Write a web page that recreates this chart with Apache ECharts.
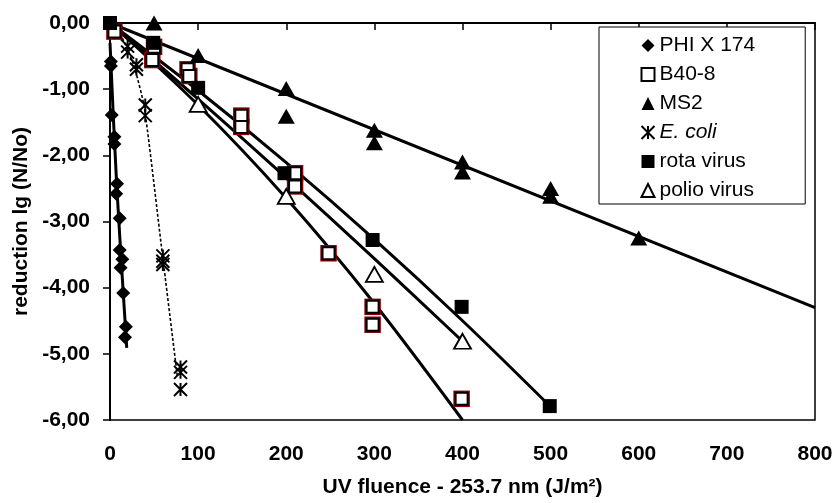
<!DOCTYPE html>
<html><head><meta charset="utf-8">
<script src="https://cdn.jsdelivr.net/npm/echarts@6/dist/echarts.min.js"></script>
<style>html,body{margin:0;padding:0;background:#fff}#c{width:836px;height:503px}</style>
</head><body><div id="c"></div>
<script>
// ---- data ----
const xTicks = [0,100,200,300,400,500,600,700,800];
const yTicks = [0,-1,-2,-3,-4,-5,-6];
const seriesNames = ['PHI X 174','B40-8','MS2','E. coli','rota virus','polio virus'];

const phiX = [[1,-0.58],[1,-0.65],[2,-1.39],[5,-1.72],[5,-1.83],[8,-2.43],[7,-2.58],[11,-2.95],[11,-3.43],[14,-3.57],[12,-3.7],[15,-4.08],[18,-4.59],[17,-4.75]];
const b408 = [[9,0.02],[5,-0.13],[50,-0.36],[48,-0.56],[88,-0.7],[90,-0.8],[149,-1.4],[149,-1.57],[210,-2.27],[210,-2.47],[248,-3.48],[298,-4.29],[298,-4.56],[399,-5.68]];
const ms2 = [[50,0],[100,-0.49],[200,-0.99],[200,-1.41],[300,-1.62],[300,-1.81],[400,-2.1],[400,-2.25],[500,-2.5],[500,-2.62],[600,-3.25]];
const ecoli = [[20,-0.35],[20,-0.44],[30,-0.63],[30,-0.7],[40,-1.24],[40,-1.4],[60,-3.52],[60,-3.6],[60,-3.65],[80,-5.2],[80,-5.28],[80,-5.54]];
const rota = [[0,0],[49,-0.3],[100,-0.98],[198,-2.27],[298,-3.28],[399,-4.29],[499,-5.79]];
const polio = [[100,-1.23],[200,-2.62],[300,-3.8],[400,-4.81]];

// trend lines (vertices)
const phiTrend = [[0,-0.3],[7.6,-2.45],[19,-4.91]];
const ecoliTrend = [[14,-0.23],[20,-0.4],[28,-0.68],[39,-1.28],[58,-3.34],[76.5,-5.35]];
const ms2Trend = [[0,0],[800,-4.3]];
const rotaTrend = [[0,0],[100,-1.02],[200,-2.11],[300,-3.27],[400,-4.5],[500,-5.8]];
const b40Trend = [[0,0],[100,-1.24],[200,-2.65],[300,-4.24],[400,-6.0]];
const polioTrend = [[0,0],[100,-1.15],[200,-2.34],[300,-3.56],[400,-4.81]];

const FONT = '"Liberation Sans", Arial, sans-serif';
const chart = echarts.init(document.getElementById('c'));

function trend(data, opts) {
  return Object.assign({
    type: 'line', data: data, showSymbol: false, symbol: 'none', silent: true,
    lineStyle: { color: '#000', width: 3 }, z: 2, clip: true, legendHoverLink: false
  }, opts || {});
}
const asterisk = 'path://M0,0L10,10M10,0L0,10M5,0L5,10';

chart.setOption({
  animation: false,
  backgroundColor: '#fff',
  grid: { left: 110, right: 21, top: 23, bottom: 83, show: true, borderColor: '#000', borderWidth: 1.5 },
  xAxis: {
    type: 'value', min: xTicks[0], max: xTicks[xTicks.length-1], interval: 100,
    name: 'UV fluence - 253.7 nm (J/m²)', nameLocation: 'middle', nameGap: 57,
    nameTextStyle: { fontFamily: FONT, fontWeight: 'bold', fontSize: 21, color: '#000' },
    axisLine: { lineStyle: { color: '#000', width: 2 } },
    axisTick: { show: true, inside: false, length: 7, lineStyle: { color: '#000', width: 1.5 } },
    axisLabel: { fontFamily: FONT, fontWeight: 'bold', fontSize: 21, color: '#000', margin: 24 },
    splitLine: { show: false }
  },
  yAxis: {
    type: 'value', min: yTicks[yTicks.length-1], max: yTicks[0], interval: 1,
    name: 'reduction lg (N/No)', nameLocation: 'middle', nameGap: 73,
    nameTextStyle: { fontFamily: FONT, fontWeight: 'bold', fontSize: 21, color: '#000' },
    axisLine: { show: true, lineStyle: { color: '#000', width: 2 } },
    axisTick: { show: true, inside: false, length: 7, lineStyle: { color: '#000', width: 1.5 } },
    axisLabel: { fontFamily: FONT, fontWeight: 'bold', fontSize: 21, color: '#000', margin: 20,
      formatter: v => v.toFixed(2).replace('.', ',') },
    splitLine: { show: false }
  },
  legend: {
    data: seriesNames, orient: 'vertical', left: 599, top: 27,
    backgroundColor: '#fff', borderColor: '#000', borderWidth: 1,
    padding: [8, 50, 3, 40], itemGap: 8, itemWidth: 13, itemHeight: 13,
    textStyle: { fontFamily: FONT, fontSize: 21, color: '#000',
      rich: { i: { fontFamily: FONT, fontSize: 21, fontStyle: 'italic', color: '#000' } } },
    formatter: n => n === 'E. coli' ? '{i|E. coli}' : n,
    selectedMode: false
  },
  series: [
    trend(phiTrend, { smooth: 0.3 }),
    trend(ecoliTrend, { smooth: 0.2, lineStyle: { color: '#000', width: 1.6, type: [3, 2] } }),
    trend(ms2Trend),
    trend(rotaTrend, { smooth: 0.3 }),
    trend(b40Trend, { smooth: 0.3 }),
    trend(polioTrend, { smooth: 0.3 }),
    { name: 'PHI X 174', type: 'scatter', data: phiX, symbol: 'diamond', symbolSize: 14, z: 5,
      itemStyle: { color: '#000', opacity: 1 } },
    // dark red fringe under the B40-8 squares
    { type: 'scatter', data: b408, symbol: 'rect', symbolSize: 16.5, z: 4, silent: true, legendHoverLink: false,
      itemStyle: { color: '#8a0000', opacity: 1 } },
    { name: 'B40-8', type: 'scatter', data: b408, symbol: 'rect', symbolSize: 12, z: 5,
      itemStyle: { color: '#fff', borderColor: '#000', borderWidth: 2, opacity: 1 } },
    { name: 'MS2', type: 'scatter', data: ms2, symbol: 'triangle', symbolSize: [17, 15], z: 5,
      itemStyle: { color: '#000', opacity: 1 } },
    { name: 'E. coli', type: 'scatter', data: ecoli, symbol: asterisk, symbolSize: 13, z: 5,
      itemStyle: { color: 'none', borderColor: '#000', borderWidth: 2, opacity: 1 } },
    { name: 'rota virus', type: 'scatter', data: rota, symbol: 'rect', symbolSize: 14, z: 5,
      itemStyle: { color: '#000', opacity: 1 } },
    { name: 'polio virus', type: 'scatter', data: polio, symbol: 'triangle', symbolSize: [17, 15], z: 5,
      itemStyle: { color: '#fff', borderColor: '#000', borderWidth: 1.8, opacity: 1 } }
  ]
});
</script></body></html>
